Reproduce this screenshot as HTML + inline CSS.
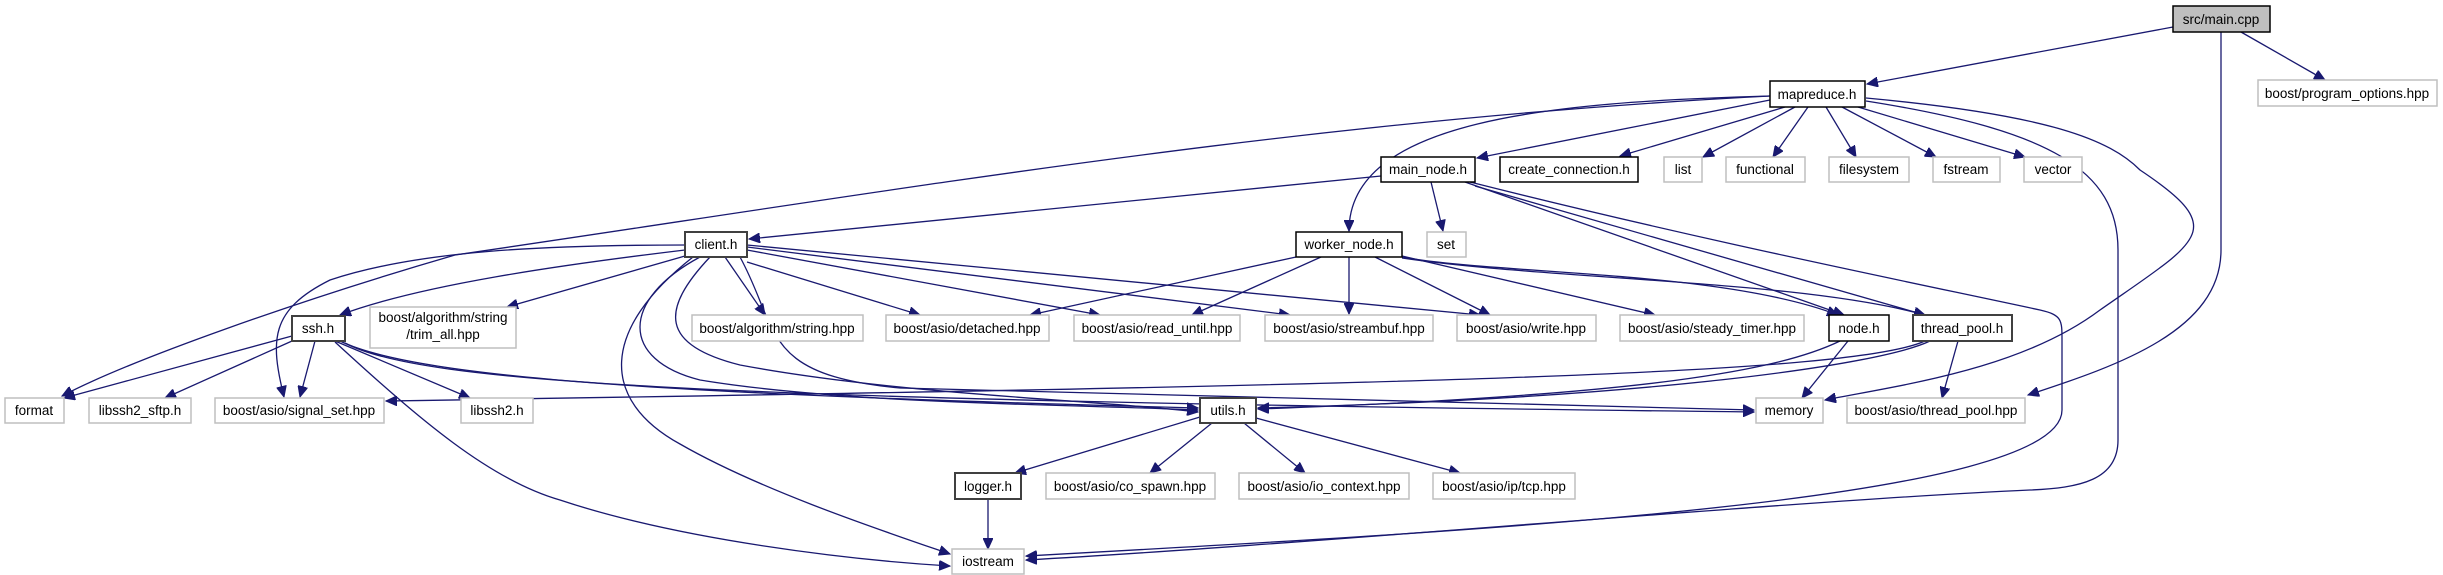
<!DOCTYPE html>
<html><head><meta charset="utf-8"><style>
html,body{margin:0;padding:0;background:#fff;}
svg{display:block;}
text{font-family:"Liberation Sans",sans-serif;font-size:13.5px;fill:#000;}
.g{fill:#fff;stroke:#bfbfbf;stroke-width:1.5;}
.b{fill:#fff;stroke:#000;stroke-width:1.5;}
.d{fill:#fff;stroke:#404040;stroke-width:2;}
.e{fill:none;stroke:#191970;stroke-width:1.3;}
</style></head><body>
<svg width="2443" height="575" viewBox="0 0 2443 575" xmlns="http://www.w3.org/2000/svg">
<defs><marker id="a" markerUnits="userSpaceOnUse" markerWidth="12" markerHeight="10" refX="11" refY="5" orient="auto"><path d="M0,0 L11,5 L0,10 Z" fill="#191970" stroke="#191970"/></marker></defs>
<g class="e" marker-end="url(#a)">
<path d="M2173,27 L1867,84"/>
<path d="M2241,32 L2325,80"/>
<path d="M2221,32 L2221,250 C2221,330 2120,365 2028,395"/>
<path d="M1770,100 L1477,158"/>
<path d="M1785,107 L1620,156"/>
<path d="M1795,107 L1703,157"/>
<path d="M1808,107 L1773,157"/>
<path d="M1826,107 L1856,157"/>
<path d="M1842,107 L1936,157"/>
<path d="M1858,107 L2025,157"/>
<path d="M1770,96 C1550,102 1349,120 1349,231"/>
<path d="M1770,96 C1300,120 900,190 455,255 C300,300 130,360 62,396"/>
<path d="M1866,98 C2050,115 2110,140 2140,170 C2230,230 2200,240 2100,310 C2020,370 1900,385 1825,400"/>
<path d="M1866,101 C2050,130 2118,170 2118,250 L2118,440 C2118,480 2080,488 2030,490 C1800,500 1300,545 1026,560"/>
<path d="M1470,182 C1700,240 1900,280 2040,310 C2062,315 2062,320 2062,340 L2062,410 C2062,500 1500,530 1026,556"/>
<path d="M1381,176 L749,239"/>
<path d="M1431,182 L1443,231"/>
<path d="M1465,182 L1844,315"/>
<path d="M1475,186 L1925,315"/>
<path d="M1296,257 L1030,315"/>
<path d="M1321,257 L1192,315"/>
<path d="M1349,257 L1349,314"/>
<path d="M1375,257 L1490,315"/>
<path d="M1402,256 L1655,315"/>
<path d="M1402,257 C1500,275 1720,270 1838,315"/>
<path d="M1402,258 C1550,280 1800,280 1925,315"/>
<path d="M685,245 C550,245 420,250 330,280 C270,310 270,340 284,397"/>
<path d="M685,250 C560,265 420,285 340,315"/>
<path d="M685,256 L507,307"/>
<path d="M725,257 L765,315"/>
<path d="M747,262 L920,315"/>
<path d="M747,250 L1100,315"/>
<path d="M747,247 L1290,315"/>
<path d="M747,245 L1480,315"/>
<path d="M700,257 C620,300 620,360 700,380 C850,405 1100,405 1198,410"/>
<path d="M710,257 C660,310 660,345 740,365 C900,395 1100,400 1198,412"/>
<path d="M693,257 C600,330 600,400 680,444 C760,490 880,530 950,554"/>
<path d="M740,257 C780,330 760,375 900,388 C1300,398 1600,404 1754,410"/>
<path d="M292,336 L64,398"/>
<path d="M292,341 L165,398"/>
<path d="M315,341 L300,397"/>
<path d="M335,341 L470,398"/>
<path d="M340,341 C420,380 700,395 1198,408"/>
<path d="M345,343 C420,383 700,400 1754,412"/>
<path d="M335,342 C420,420 490,480 560,500 C680,540 850,560 950,566"/>
<path d="M1840,341 C1780,370 1650,395 1258,409"/>
<path d="M1848,341 L1802,398"/>
<path d="M1930,341 C1880,365 1650,398 1258,408"/>
<path d="M1958,341 L1942,398"/>
<path d="M1925,341 C1850,375 1400,385 386,401"/>
<path d="M1200,417 L1015,473"/>
<path d="M1212,423 L1150,473"/>
<path d="M1244,423 L1305,473"/>
<path d="M1256,418 L1460,473"/>
<path d="M988,499 L988,549"/>
</g>
<g text-anchor="middle">
<rect x="2173" y="6" width="97" height="26" fill="#bfbfbf" stroke="#000" stroke-width="1.5"/><text x="2221" y="24">src/main.cpp</text>
<rect class="g" x="2258" y="80" width="179" height="26"/><text x="2347" y="98">boost/program_options.hpp</text>
<rect class="b" x="1770" y="81" width="95" height="26"/><text x="1817" y="99">mapreduce.h</text>
<rect class="b" x="1381" y="157" width="94" height="25"/><text x="1428" y="174">main_node.h</text>
<rect class="b" x="1500" y="157" width="138" height="25"/><text x="1569" y="174">create_connection.h</text>
<rect class="g" x="1664" y="157" width="38" height="25"/><text x="1683" y="174">list</text>
<rect class="g" x="1726" y="157" width="79" height="25"/><text x="1765" y="174">functional</text>
<rect class="g" x="1829" y="157" width="80" height="25"/><text x="1869" y="174">filesystem</text>
<rect class="g" x="1933" y="157" width="67" height="25"/><text x="1966" y="174">fstream</text>
<rect class="g" x="2024" y="157" width="58" height="25"/><text x="2053" y="174">vector</text>
<rect class="d" x="685" y="232" width="62" height="25"/><text x="716" y="249">client.h</text>
<rect class="b" x="1296" y="232" width="106" height="25"/><text x="1349" y="249">worker_node.h</text>
<rect class="g" x="1427" y="232" width="39" height="25"/><text x="1446" y="249">set</text>
<rect class="d" x="292" y="316" width="53" height="25"/><text x="318" y="333">ssh.h</text>
<rect class="g" x="370" y="307" width="146" height="41"/><text x="443" y="322">boost/algorithm/string</text><text x="443" y="339">/trim_all.hpp</text>
<rect class="g" x="692" y="315" width="171" height="26"/><text x="777" y="333">boost/algorithm/string.hpp</text>
<rect class="g" x="886" y="315" width="163" height="26"/><text x="967" y="333">boost/asio/detached.hpp</text>
<rect class="g" x="1074" y="315" width="166" height="26"/><text x="1157" y="333">boost/asio/read_until.hpp</text>
<rect class="g" x="1265" y="315" width="168" height="26"/><text x="1349" y="333">boost/asio/streambuf.hpp</text>
<rect class="g" x="1457" y="315" width="139" height="26"/><text x="1526" y="333">boost/asio/write.hpp</text>
<rect class="g" x="1620" y="315" width="184" height="26"/><text x="1712" y="333">boost/asio/steady_timer.hpp</text>
<rect class="b" x="1829" y="315" width="60" height="26"/><text x="1859" y="333">node.h</text>
<rect class="d" x="1913" y="315" width="99" height="26"/><text x="1962" y="333">thread_pool.h</text>
<rect class="g" x="5" y="398" width="59" height="25"/><text x="34" y="415">format</text>
<rect class="g" x="89" y="398" width="102" height="25"/><text x="140" y="415">libssh2_sftp.h</text>
<rect class="g" x="215" y="398" width="169" height="25"/><text x="299" y="415">boost/asio/signal_set.hpp</text>
<rect class="g" x="461" y="398" width="72" height="25"/><text x="497" y="415">libssh2.h</text>
<rect class="d" x="1200" y="398" width="56" height="25"/><text x="1228" y="415">utils.h</text>
<rect class="g" x="1756" y="398" width="67" height="25"/><text x="1789" y="415">memory</text>
<rect class="g" x="1847" y="398" width="178" height="25"/><text x="1936" y="415">boost/asio/thread_pool.hpp</text>
<rect class="d" x="955" y="473" width="66" height="26"/><text x="988" y="491">logger.h</text>
<rect class="g" x="1046" y="473" width="169" height="26"/><text x="1130" y="491">boost/asio/co_spawn.hpp</text>
<rect class="g" x="1239" y="473" width="170" height="26"/><text x="1324" y="491">boost/asio/io_context.hpp</text>
<rect class="g" x="1433" y="473" width="142" height="26"/><text x="1504" y="491">boost/asio/ip/tcp.hpp</text>
<rect class="g" x="952" y="549" width="72" height="25"/><text x="988" y="566">iostream</text>
</g>
</svg>
</body></html>
